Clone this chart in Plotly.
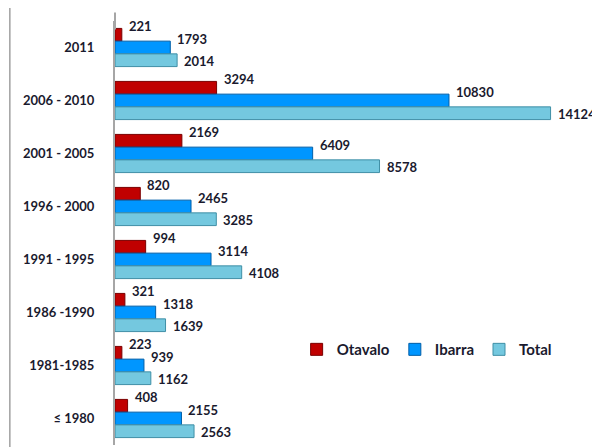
import plotly.graph_objects as go

categories = ["2011", "2006 - 2010", "2001 - 2005", "1996 - 2000", "1991 - 1995",
              "1986 -1990", "1981-1985", "≤ 1980"]
otavalo = [221, 3294, 2169, 820, 994, 321, 223, 408]
ibarra = [1793, 10830, 6409, 2465, 3114, 1318, 939, 2155]
total = [2014, 14124, 8578, 3285, 4108, 1639, 1162, 2563]

# name, values, fill, edge, label vertical shift (px)
series = [
    ("Otavalo", otavalo, "#C00000", "#7A0000", 22),
    ("Ibarra", ibarra, "#0096FF", "#005FA8", 9),
    ("Total", total, "#74C8DF", "#3F8FA6", -13),
]

FONT = "Lato"
TXT = "#1A1A2E"

fig = go.Figure()
annotations = []
for name, vals, col, edge, ys in series:
    fig.add_trace(go.Bar(
        y=categories, x=vals, name=name, orientation="h",
        marker=dict(color=col, line=dict(color=edge, width=1)),
    ))
    for i, v in enumerate(vals):
        annotations.append(dict(
            x=v, y=i, xref="x", yref="y", text=str(v), showarrow=False,
            xanchor="left", yanchor="middle", xshift=5, yshift=ys,
            font=dict(family=FONT, size=13, color=TXT, weight="bold"),
        ))

fig.update_layout(
    width=592, height=439,
    margin=dict(l=107, r=7, t=13, b=2, autoexpand=False),
    plot_bgcolor="white", paper_bgcolor="white",
    barmode="group", bargap=0.28, bargroupgap=0,
    font=dict(family=FONT, size=13, color=TXT),
    xaxis=dict(range=[0, 15500], showgrid=False, zeroline=False,
               showticklabels=False, showline=False, automargin=False),
    yaxis=dict(type="category", categoryorder="array", categoryarray=categories,
               range=[len(categories) - 0.5, -0.5], showgrid=False, showline=True,
               linecolor="#A6A6A6", linewidth=2, ticks="", ticklabelstandoff=16,
               automargin=False,
               tickfont=dict(family=FONT, size=13, color=TXT, weight="bold")),
    legend=dict(orientation="h", x=0.38, y=0.225, xanchor="left", yanchor="middle",
                font=dict(family=FONT, size=15, color=TXT, weight="bold"),
                bgcolor="rgba(0,0,0,0)", itemwidth=30, tracegroupgap=0),
    annotations=annotations,
    shapes=[dict(type="line", xref="paper", yref="paper",
                 x0=-0.22, x1=-0.22, y0=-0.01, y1=1.04,
                 line=dict(color="#A0A0A0", width=1.5)),
            dict(type="line", xref="paper", yref="paper",
                 x0=0, x1=0, y0=0.98, y1=1.02,
                 line=dict(color="#A6A6A6", width=2))],
    showlegend=True,
)

fig.write_html("out.html")
